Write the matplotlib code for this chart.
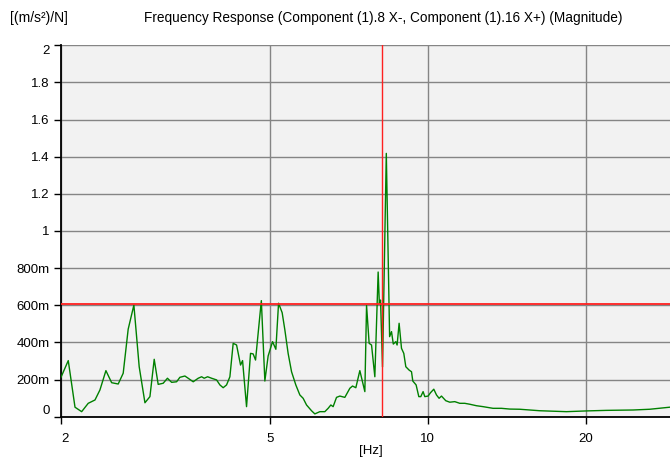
import matplotlib
matplotlib.use("Agg")
import matplotlib.pyplot as plt
from matplotlib.ticker import FixedLocator, FuncFormatter, NullLocator

plt.rcParams["font.family"] = ["Liberation Sans", "DejaVu Sans"]

# --- data ---
freq = [2.000, 2.065, 2.127, 2.190, 2.254, 2.322, 2.373, 2.436, 2.498, 2.571,
        2.628, 2.686, 2.754, 2.819, 2.891, 2.955, 3.011, 3.064, 3.132, 3.191,
        3.250, 3.322, 3.370, 3.445, 3.495, 3.573, 3.652, 3.707, 3.749, 3.806,
        3.873, 3.959, 4.017, 4.075, 4.136, 4.197, 4.258, 4.322, 4.398, 4.437,
        4.515, 4.595, 4.648, 4.697, 4.751, 4.818, 4.893, 4.964, 5.061, 5.135,
        5.196, 5.279, 5.342, 5.419, 5.501, 5.605, 5.705, 5.788, 5.875, 6.005,
        6.093, 6.228, 6.366, 6.459, 6.536, 6.602, 6.701, 6.800, 6.950, 7.105,
        7.189, 7.294, 7.423, 7.588, 7.645, 7.732, 7.814, 7.928, 8.044, 8.086,
        8.129, 8.200, 8.337, 8.459, 8.530, 8.597, 8.692, 8.742, 8.819, 8.912,
        9.002, 9.082, 9.214, 9.312, 9.365, 9.502, 9.615, 9.699, 9.798, 9.871,
        10.015, 10.121, 10.269, 10.391, 10.510, 10.621, 10.823, 11.015, 11.259, 11.509,
        11.764, 12.025, 12.383, 12.747, 13.318, 13.818, 14.330, 14.973, 16.346, 18.377,
        20.06, 21.90, 24.62, 26.49, 28.91]
magnitude = [0.212, 0.302, 0.051, 0.027, 0.072, 0.090, 0.144, 0.248, 0.183, 0.176,
             0.234, 0.471, 0.601, 0.269, 0.075, 0.108, 0.309, 0.174, 0.180, 0.207,
             0.185, 0.188, 0.212, 0.219, 0.207, 0.188, 0.207, 0.215, 0.207, 0.215,
             0.207, 0.198, 0.171, 0.156, 0.171, 0.215, 0.395, 0.386, 0.278, 0.302,
             0.054, 0.341, 0.338, 0.305, 0.449, 0.625, 0.192, 0.327, 0.404, 0.363,
             0.611, 0.560, 0.467, 0.341, 0.242, 0.171, 0.117, 0.099, 0.063, 0.032,
             0.015, 0.027, 0.027, 0.045, 0.063, 0.054, 0.104, 0.111, 0.104, 0.153,
             0.165, 0.156, 0.248, 0.135, 0.599, 0.395, 0.386, 0.215, 0.779, 0.612,
             0.628, 0.268, 1.418, 0.431, 0.458, 0.391, 0.404, 0.386, 0.503, 0.368,
             0.341, 0.269, 0.251, 0.242, 0.192, 0.171, 0.108, 0.108, 0.135, 0.108,
             0.111, 0.129, 0.148, 0.117, 0.099, 0.111, 0.086, 0.078, 0.081, 0.072,
             0.072, 0.067, 0.059, 0.054, 0.045, 0.045, 0.041, 0.040, 0.032, 0.027,
             0.031, 0.034, 0.036, 0.040, 0.051]

cursor_freq = 8.17
cursor_level = 0.605
y_ticks = [0, 0.2, 0.4, 0.6, 0.8, 1.0, 1.2, 1.4, 1.6, 1.8, 2.0]
x_ticks = [2, 5, 10, 20]


def fmt_y(v, pos):
    if v == 0:
        return "0"
    if v < 1:
        return f"{v * 1000:.0f}m"
    return f"{v:g}"


fig = plt.figure(figsize=(6.7, 4.59), dpi=100)
ax = fig.add_axes([0.091, 0.0922, 0.909, 0.8091])
ax.set_facecolor("#f2f2f2")

ax.plot(freq, magnitude, color="#008000", lw=1.0, zorder=3)
ax.axhline(cursor_level, color="#ff2020", lw=1.3, zorder=4)
ax.axvline(cursor_freq, color="#ff2020", lw=1.0, zorder=4)

ax.set_xscale("log")
ax.set_xlim(2, 28.95)
ax.set_ylim(0, 2)

ax.xaxis.set_major_locator(FixedLocator(x_ticks))
ax.xaxis.set_major_formatter(FuncFormatter(lambda v, p: f"{v:g}"))
ax.xaxis.set_minor_locator(NullLocator())
ax.yaxis.set_major_locator(FixedLocator(y_ticks))
ax.yaxis.set_major_formatter(FuncFormatter(fmt_y))

ax.grid(True, color="#858585", lw=1.0)
ax.set_axisbelow(True)
for s in ["top", "right"]:
    ax.spines[s].set_visible(False)
ax.spines["left"].set_linewidth(1.3)
ax.spines["bottom"].set_linewidth(1.3)
ax.tick_params(axis="both", direction="out", length=5, width=1, labelsize=9.5,
               colors="black")
ax.tick_params(axis="x", pad=7)
ax.tick_params(axis="y", pad=3)

# keep end labels inside the axes range like the original
yt = ax.yaxis.get_major_ticks()
yt[0].label1.set_va("bottom")
yt[-1].label1.set_va("top")
ax.xaxis.get_major_ticks()[0].label1.set_ha("left")

ax.set_xlabel("[Hz]", fontsize=9.5)
ax.xaxis.set_label_coords(0.509, -0.075)

fig.text(0.015, 0.96, "[(m/s²)/N]", fontsize=10, va="center", ha="left")
fig.text(0.572, 0.96,
         "Frequency Response (Component (1).8 X-, Component (1).16 X+) (Magnitude)",
         fontsize=9.8, va="center", ha="center")

fig.savefig("out.png", dpi=100)
